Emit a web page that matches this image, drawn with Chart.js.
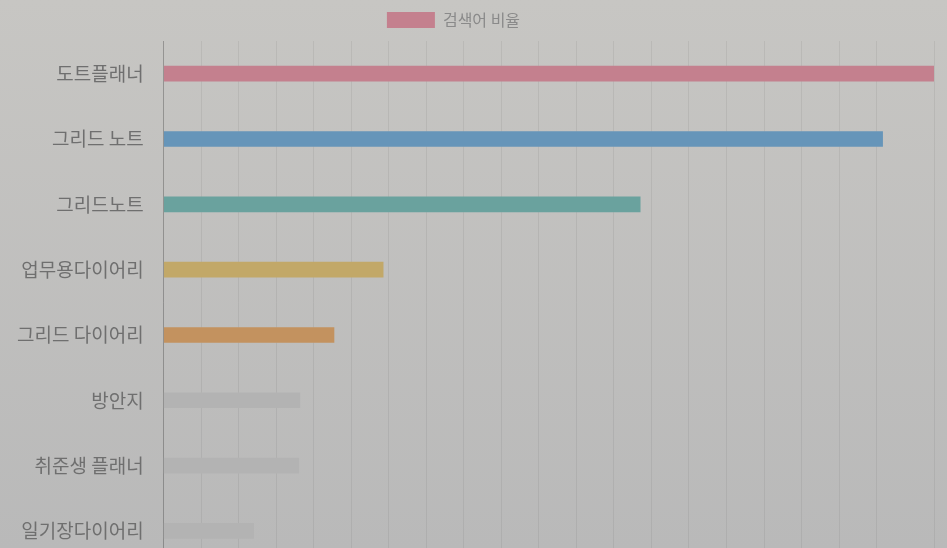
<!DOCTYPE html>
<html>
<head>
<meta charset="utf-8">
<script src="https://cdn.jsdelivr.net/npm/chart.js@4.4.1/dist/chart.umd.min.js"></script>
<style>
    html, body {
        margin: 0;
        padding: 0;
        overflow: hidden;
    }
    body {
        width: 947px;
        height: 548px;
        background: linear-gradient(to bottom, #c7c6c3, #b9b9b9);
    }
    #wrap {
        position: absolute;
        left: 0;
        top: 0;
        width: 947px;
        height: 587px;
    }
</style>
</head>
<body>
<div id="wrap"><canvas id="chart"></canvas></div>
<script>
let keywords = ['도트플래너', '그리드 노트', '그리드노트', '업무용다이어리', '그리드 다이어리', '방안지', '취준생 플래너', '일기장다이어리'];
let ratios = [20.53, 19.16, 12.7, 5.85, 4.54, 3.63, 3.6, 2.4];
let barColors = ['#c4808e', '#6695b9', '#6aa29e', '#c2a868', '#c3925f', '#b3b3b3', '#b3b3b3', '#b3b3b3'];
let seriesLabel = '검색어 비율';

let chartArea = document.getElementById('chart').getContext('2d');

// legend sits a little left of centre in the original, with a bit more room under it
let legendTweak = {
    id: 'legendTweak',
    beforeInit(chart) {
        let fit = chart.legend.fit;
        chart.legend.fit = function () {
            fit.bind(chart.legend)();
            this.height += 3;
        };
    },
    afterLayout(chart) {
        chart.legend.left -= 32;
    }
};

let myChart = new Chart(chartArea, {
    type: 'bar',
    data: {
        labels: keywords,
        datasets: [{
            label: seriesLabel,
            data: ratios,
            backgroundColor: barColors,
            borderColor: barColors,
            borderWidth: 0,
            barThickness: 15
        }]
    },
    options: {
        indexAxis: 'y',
        responsive: true,
        maintainAspectRatio: false,
        animation: false,
        layout: {
            padding: { top: 0, right: 13, left: 5, bottom: 0 }
        },
        plugins: {
            legend: {
                labels: {
                    boxWidth: 48,
                    boxHeight: 16,
                    padding: 12,
                    color: '#8a8a8a',
                    font: { family: '"Noto Sans CJK KR"', size: 16 }
                }
            },
            tooltip: { enabled: false }
        },
        scales: {
            x: {
                beginAtZero: true,
                max: Math.max(...ratios),
                ticks: { display: false, stepSize: 1 },
                grid: { color: 'rgba(0, 0, 0, 0.06)', drawTicks: false },
                border: { display: false }
            },
            y: {
                ticks: {
                    color: '#6f6f6f',
                    padding: 12,
                    font: { family: '"Noto Sans CJK KR"', size: 19 }
                },
                grid: { display: false },
                border: { display: true, color: 'rgba(0, 0, 0, 0.2)' }
            }
        }
    },
    plugins: [legendTweak]
});
</script>
</body>
</html>
